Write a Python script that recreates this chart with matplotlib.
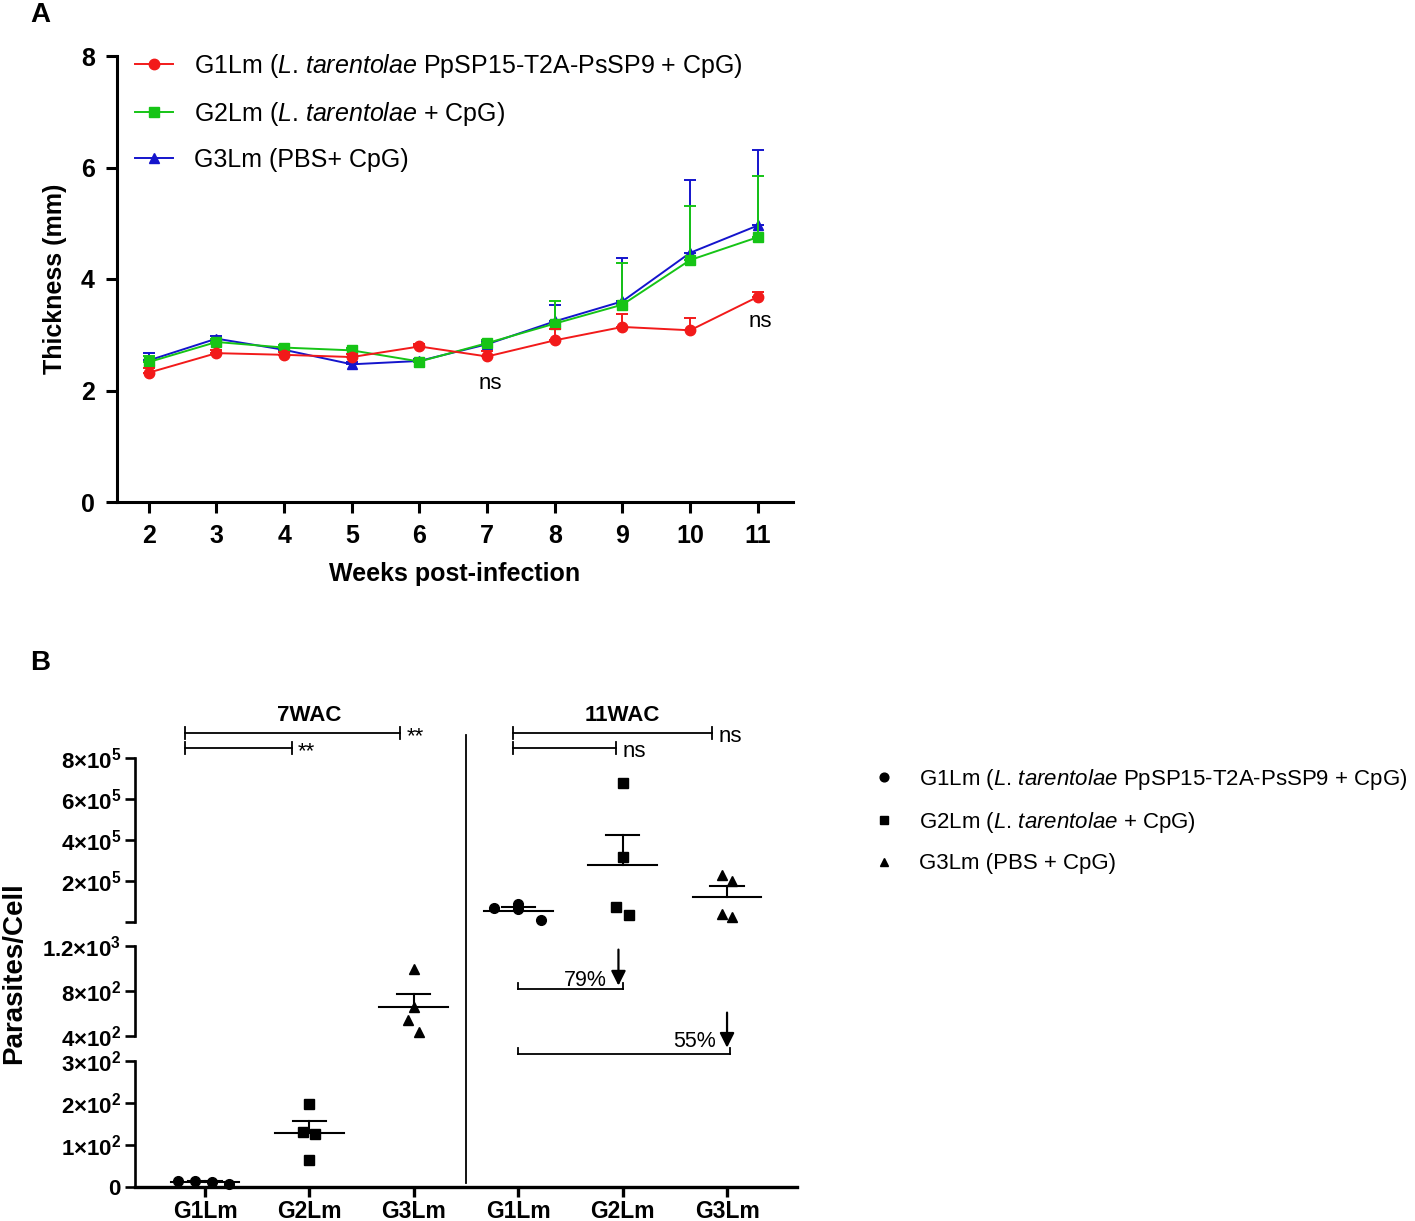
import numpy as np
import matplotlib
matplotlib.use("Agg")
import matplotlib.pyplot as plt
import matplotlib.transforms as mtransforms
from matplotlib.lines import Line2D

plt.rcParams['font.family'] = ['Liberation Sans', 'DejaVu Sans']
plt.rcParams['mathtext.fontset'] = 'custom'
plt.rcParams['mathtext.rm'] = 'Liberation Sans'
plt.rcParams['mathtext.it'] = 'Liberation Sans:italic'
plt.rcParams['mathtext.bf'] = 'Liberation Sans:bold'

## **PANEL A DATA** (footpad thickness, mm, mean and upper SEM)
weeks = [2, 3, 4, 5, 6, 7, 8, 9, 10, 11]
g1_mean = [2.32, 2.67, 2.64, 2.60, 2.79, 2.61, 2.90, 3.14, 3.08, 3.68]
g1_sem = [0.08, 0.05, 0.05, 0.06, 0.04, 0.10, 0.20, 0.24, 0.22, 0.09]
g2_mean = [2.51, 2.87, 2.77, 2.72, 2.52, 2.85, 3.20, 3.54, 4.34, 4.75]
g2_sem = [0.10, 0.05, 0.04, 0.05, 0.03, 0.05, 0.40, 0.74, 0.97, 1.09]
g3_mean = [2.54, 2.93, 2.73, 2.47, 2.53, 2.83, 3.24, 3.60, 4.47, 4.96]
g3_sem = [0.14, 0.05, 0.04, 0.05, 0.04, 0.05, 0.29, 0.77, 1.30, 1.36]
a_labels = [r'G1Lm ($\mathit{L}$. $\mathit{tarentolae}$ PpSP15-T2A-PsSP9 + CpG)',
            r'G2Lm ($\mathit{L}$. $\mathit{tarentolae}$ + CpG)',
            'G3Lm (PBS+ CpG)']

## **PANEL B DATA** (parasites per cell, 4 animals per group)
b_groups = ['G1Lm', 'G2Lm', 'G3Lm']
wac7 = [[14, 14, 13, 7],
        [197, 130, 126, 65],
        [994, 656, 538, 435]]
wac11 = [[0.67e5, 0.87e5, 0.62e5, 0.08e5],
         [6.80e5, 3.16e5, 0.74e5, 0.34e5],
         [2.31e5, 1.98e5, 0.41e5, 0.25e5]]
b_labels = [r'G1Lm ($\mathit{L}$. $\mathit{tarentolae}$ PpSP15-T2A-PsSP9 + CpG)',
            r'G2Lm ($\mathit{L}$. $\mathit{tarentolae}$ + CpG)',
            'G3Lm (PBS + CpG)']

# horizontal scatter offsets of the dots (layout only)
jit7 = [[-0.26, -0.10, 0.07, 0.23], [0, -0.06, 0.05, 0], [0, 0, -0.06, 0.05]]
jit11 = [[-0.23, 0, 0, 0.22], [0, 0, -0.06, 0.06], [-0.05, 0.05, -0.05, 0.05]]

W, H = 1415, 1221
fig = plt.figure(figsize=(W / 100, H / 100), dpi=100)

def box(left, top, right, bottom):
    return [left / W, 1 - bottom / H, (right - left) / W, (bottom - top) / H]

## ---------------- panel A ----------------
axA = fig.add_axes(box(117, 56, 793, 502))
series = [(g1_mean, g1_sem, '#f21a1a', 'o', 7.5, 3),
          (g2_mean, g2_sem, '#16c416', 's', 7, 2),
          (g3_mean, g3_sem, '#1414cc', '^', 7, 1)]
handles = []
for (m, s, c, mk, ms, z), lab in zip(series, a_labels):
    m = np.array(m)
    s = np.array(s)
    axA.errorbar(weeks, m, yerr=[np.zeros_like(s), s], color=c, marker=mk,
                 markersize=ms, lw=1.4, elinewidth=1.4, capsize=4, capthick=1.4, zorder=z)
    handles.append(Line2D([], [], color=c, marker=mk, markersize=ms, lw=1.4))
axA.set_xlim(1.53, 11.52)
axA.set_ylim(0, 8)
axA.set_xticks(weeks)
axA.set_yticks([0, 2, 4, 6, 8])
for sp in ['top', 'right']:
    axA.spines[sp].set_visible(False)
for sp in ['left', 'bottom']:
    axA.spines[sp].set_linewidth(2.2)
axA.tick_params(direction='out', length=8, width=2.2, labelsize=18)
axA.tick_params(axis='x', pad=8)
axA.tick_params(axis='y', pad=8)
for t in axA.get_xticklabels() + axA.get_yticklabels():
    t.set_fontweight('bold')
axA.set_xlabel('Weeks post-infection', fontsize=18, fontweight='bold', labelpad=10)
axA.set_ylabel('Thickness (mm)', fontsize=18, fontweight='bold', labelpad=10)
axA.legend(handles=handles, labels=a_labels, loc='upper left', bbox_to_anchor=(0.027, 1.01),
           frameon=False, fontsize=18, handlelength=1.5, handletextpad=0.85,
           labelspacing=0.8, borderpad=0, borderaxespad=0)
axA.text(7.04, 2.12, 'ns', fontsize=16, ha='center', va='center')
axA.text(11.03, 3.23, 'ns', fontsize=16, ha='center', va='center')

## ---------------- panel B (broken axis) ----------------
axT = fig.add_axes(box(135, 758, 797, 922))
axM = fig.add_axes(box(135, 946, 797, 1036))
axB = fig.add_axes(box(135, 1061, 797, 1187))
segs = [(axB, 0, 300), (axM, 400, 1200), (axT, 0, 8e5)]
axT.set_ylim(0, 8e5)
axM.set_ylim(400, 1200)
axB.set_ylim(0, 300)
axT.set_yticks([0, 2e5, 4e5, 6e5, 8e5])
axT.set_yticklabels(['', r'$\mathbf{2{\times}10^{5}}$', r'$\mathbf{4{\times}10^{5}}$',
                     r'$\mathbf{6{\times}10^{5}}$', r'$\mathbf{8{\times}10^{5}}$'])
axM.set_yticks([400, 800, 1200])
axM.set_yticklabels([r'$\mathbf{4{\times}10^{2}}$', r'$\mathbf{8{\times}10^{2}}$',
                     r'$\mathbf{1.2{\times}10^{3}}$'])
axB.set_yticks([0, 100, 200, 300])
axB.set_yticklabels([r'$\mathbf{0}$', r'$\mathbf{1{\times}10^{2}}$', r'$\mathbf{2{\times}10^{2}}$',
                     r'$\mathbf{3{\times}10^{2}}$'])

xpos = np.arange(6)
for ax in (axT, axM, axB):
    ax.set_xlim(-0.67, 5.67)
    ax.patch.set_visible(False)
    for sp in ['top', 'right', 'bottom']:
        ax.spines[sp].set_visible(False)
    ax.spines['left'].set_linewidth(1.9)
    ax.tick_params(axis='y', direction='out', length=7, width=1.9, labelsize=16, pad=3)
    ax.set_xticks([])
axB.spines['bottom'].set_visible(True)
axB.spines['bottom'].set_linewidth(2.4)
axB.set_xticks(xpos)
axB.set_xticklabels(b_groups * 2, fontsize=16.5, fontweight='bold')
axB.tick_params(axis='x', direction='out', length=7, width=2.4, pad=2)

markers = ['o', 's', '^']
msizes = [7, 6.5, 7]
all_vals = wac7 + wac11
all_jit = jit7 + jit11
for i, (vals, jit) in enumerate(zip(all_vals, all_jit)):
    vals = np.array(vals, dtype=float)
    mean = vals.mean()
    sem = vals.std(ddof=1) / np.sqrt(len(vals))
    ax = next(a for a, lo, hi in segs if lo <= mean <= hi)
    k = i % 3
    ax.plot(xpos[i] + np.array(jit), vals, linestyle='none', marker=markers[k],
            markersize=msizes[k], color='black', clip_on=False, zorder=3)
    ax.plot([xpos[i] - 0.33, xpos[i] + 0.33], [mean, mean], color='black', lw=1.5, zorder=4,
            clip_on=False)
    ax.plot([xpos[i], xpos[i]], [mean, mean + sem], color='black', lw=1.5, zorder=4,
            clip_on=False)
    ax.plot([xpos[i] - 0.16, xpos[i] + 0.16], [mean + sem, mean + sem], color='black', lw=1.5,
            zorder=4, clip_on=False)

# separator between time points and comparison brackets
trT = mtransforms.blended_transform_factory(axT.transData, axT.transAxes)
axT.plot([2.5, 2.5], [1.14, -1.59], transform=trT, color='black', lw=1.3, clip_on=False)

def bracket(ax, tr, x0, x1, y, dy, txt, up=False):
    ax.plot([x0, x1], [y, y], transform=tr, color='black', lw=1.3, clip_on=False)
    for xx in (x0, x1):
        if up:
            ax.plot([xx, xx], [y, y + dy], transform=tr, color='black', lw=1.3, clip_on=False)
        else:
            ax.plot([xx, xx], [y - dy, y + dy], transform=tr, color='black', lw=1.3,
                    clip_on=False)
    if txt:
        ax.text(x1 + 0.06, y - dy * 0.6, txt, transform=tr, fontsize=16, ha='left', va='center')

dT = 0.035
bracket(axT, trT, -0.19, 1.87, 1.152, dT, '**')
bracket(axT, trT, -0.19, 0.83, 1.061, dT, '**')
bracket(axT, trT, 2.95, 4.86, 1.152, dT, 'ns')
bracket(axT, trT, 2.95, 3.94, 1.061, dT, 'ns')
axT.text(1.0, 1.26, '7WAC', transform=trT, fontsize=16, fontweight='bold', ha='center',
         va='center')
axT.text(4.0, 1.26, '11WAC', transform=trT, fontsize=16, fontweight='bold', ha='center',
         va='center')

# reduction arrows
trM = mtransforms.blended_transform_factory(axM.transData, axM.transAxes)
bracket(axM, trM, 3.0, 4.0, 0.52, 0.07, None, up=True)
bracket(axM, trM, 3.0, 5.03, -0.2, 0.07, None, up=True)
axM.annotate('', xy=(3.96, 0.56), xytext=(3.96, 0.96), xycoords=trM, textcoords=trM,
             arrowprops=dict(arrowstyle='-|>', color='black', lw=1.6, mutation_scale=22,
                             shrinkA=0, shrinkB=0), annotation_clip=False)
axM.annotate('', xy=(5.0, -0.13), xytext=(5.0, 0.26), xycoords=trM, textcoords=trM,
             arrowprops=dict(arrowstyle='-|>', color='black', lw=1.6, mutation_scale=22,
                             shrinkA=0, shrinkB=0), annotation_clip=False)
axM.text(3.85, 0.62, '79%', transform=trM, fontsize=15.5, ha='right', va='center')
axM.text(4.89, -0.06, '55%', transform=trM, fontsize=15.5, ha='right', va='center')

fig.text(14 / W, 1 - 973 / H, 'Parasites/Cell', rotation=90, fontsize=20, fontweight='bold',
         ha='center', va='center')

leg_handles = [Line2D([], [], linestyle='none', marker=mk, color='black', markersize=ms * 0.9)
               for mk, ms in zip(markers, msizes)]
fig.legend(handles=leg_handles, labels=b_labels, loc='upper left',
           bbox_to_anchor=(873 / W, 1 - 767 / H), frameon=False, fontsize=16,
           handlelength=1.0, handletextpad=1.05, labelspacing=0.82, borderpad=0,
           borderaxespad=0)

fig.text(40 / W, 1 - 15 / H, 'A', fontsize=20, fontweight='bold', ha='center', va='center')
fig.text(40 / W, 1 - 663 / H, 'B', fontsize=20, fontweight='bold', ha='center', va='center')

fig.savefig('out.png', dpi=100)
